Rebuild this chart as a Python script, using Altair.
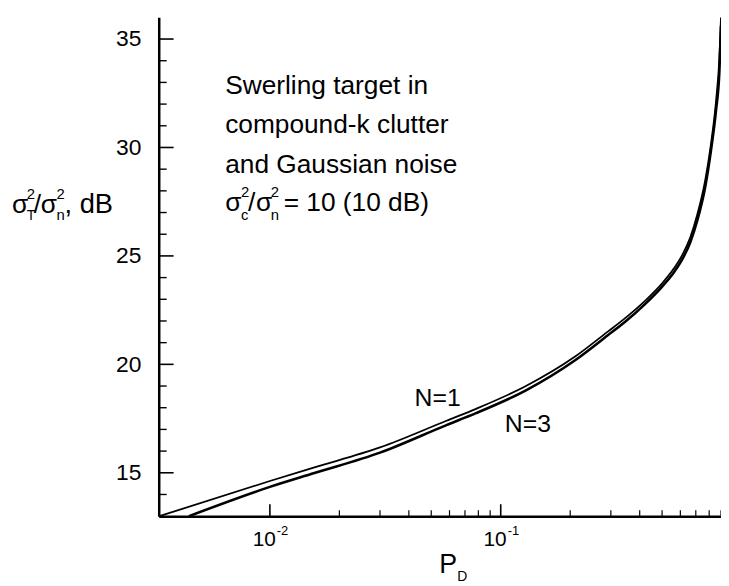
import altair as alt
import pandas as pd

# ---- data ----
pd_n1 = [0.00332, 0.0100, 0.0156, 0.0300, 0.0582, 0.0782, 0.128, 0.210, 0.291, 0.345,
         0.424, 0.497, 0.565, 0.612, 0.662, 0.710, 0.768, 0.815, 0.856, 0.886, 0.900]
snr_n1 = [13.0, 14.62, 15.25, 16.17, 17.40, 17.95, 18.99, 20.36, 21.51, 22.12,
          22.95, 23.70, 24.45, 25.05, 25.85, 26.90, 28.46, 30.19, 32.11, 34.17, 36.0]
pd_n3 = [0.00446, 0.0100, 0.0156, 0.0300, 0.0582, 0.0782, 0.128, 0.210, 0.291, 0.345,
         0.424, 0.497, 0.565, 0.612, 0.662, 0.710, 0.768, 0.815, 0.856, 0.886, 0.900]
snr_n3 = [13.0, 14.35, 14.99, 15.93, 17.20, 17.75, 18.79, 20.19, 21.34, 21.95,
          22.80, 23.55, 24.27, 24.85, 25.62, 26.62, 28.15, 29.89, 31.70, 33.55, 35.6]

y_major = [15, 20, 25, 30, 35]
y_minor = [14, 16, 17, 18, 19, 21, 22, 23, 24, 26, 27, 28, 29, 31, 32, 33, 34]
x_major = [0.01, 0.1]
x_major_exp = ["-2", "-1"]
x_minor = [0.02, 0.03, 0.04, 0.05, 0.06, 0.07, 0.08, 0.09,
           0.2, 0.3, 0.4, 0.5, 0.6, 0.7, 0.8, 0.9]

FONT = "Liberation Sans, Arial, Helvetica, sans-serif"
W, H = 567, 503
XDOM = [0.0033, 0.9]
YDOM = [13, 36]

xs = alt.Scale(type="log", domain=XDOM, nice=False)
ys = alt.Scale(domain=YDOM, nice=False, zero=False)

n1 = pd.DataFrame({"p": pd_n1, "v": snr_n1})
n3 = pd.DataFrame({"p": pd_n3, "v": snr_n3})

line1 = alt.Chart(n1).mark_line(color="black", strokeWidth=1.8, interpolate="monotone", clip=True).encode(
    x=alt.X("p:Q", scale=xs, axis=alt.Axis(labels=False, ticks=False, tickSize=0, grid=False, title=None,
                                           domainColor="black", domainWidth=2.5)),
    y=alt.Y("v:Q", scale=ys, axis=alt.Axis(values=y_major, ticks=False, tickSize=0, grid=False, title=None,
                                           labelPadding=18, labelFontSize=23, labelFont=FONT,
                                           labelColor="black", domainColor="black", domainWidth=2.5)),
)
line3 = alt.Chart(n3).mark_line(color="black", strokeWidth=2.6, interpolate="monotone", clip=True).encode(
    x=alt.X("p:Q", scale=xs), y=alt.Y("v:Q", scale=ys))

ymaj = alt.Chart(pd.DataFrame({"v": y_major})).mark_rule(color="black", strokeWidth=1.6).encode(
    y=alt.Y("v:Q", scale=ys), x=alt.value(0), x2=alt.value(15))
ymin = alt.Chart(pd.DataFrame({"v": y_minor})).mark_rule(color="black", strokeWidth=1.4).encode(
    y=alt.Y("v:Q", scale=ys), x=alt.value(0), x2=alt.value(8))
xmaj = alt.Chart(pd.DataFrame({"p": x_major})).mark_rule(color="black", strokeWidth=1.6).encode(
    x=alt.X("p:Q", scale=xs), y=alt.value(H), y2=alt.value(H - 12))
xmin = alt.Chart(pd.DataFrame({"p": x_minor})).mark_rule(color="black", strokeWidth=1.2).encode(
    x=alt.X("p:Q", scale=xs), y=alt.value(H), y2=alt.value(H - 6))

xlab_df = pd.DataFrame({"p": x_major, "base": ["10", "10"], "exp": x_major_exp})
xlab_base = alt.Chart(xlab_df).mark_text(font=FONT, fontSize=21, align="right", baseline="alphabetic",
                                         dx=6, color="black").encode(
    x=alt.X("p:Q", scale=xs), y=alt.value(533), text="base:N")
xlab_exp = alt.Chart(xlab_df).mark_text(font=FONT, fontSize=13, align="left", baseline="alphabetic",
                                        dx=7, color="black").encode(
    x=alt.X("p:Q", scale=xs), y=alt.value(522), text="exp:N")


def txt(s, x, y, size=26.5):
    return alt.Chart(pd.DataFrame({"t": [s]})).mark_text(
        font=FONT, fontSize=size, align="left", baseline="alphabetic", color="black"
    ).encode(x=alt.value(x), y=alt.value(y), text="t:N")


TX = -148
AX = 67
ann = [
    # y-axis title  sigma_T^2 / sigma_n^2, dB
    txt("σ", TX, 197), txt("2", TX + 15, 183, 15), txt("T", TX + 15, 204, 14),
    txt("/", TX + 22, 197), txt("σ", TX + 29, 197), txt("2", TX + 45, 183, 15), txt("n", TX + 45, 204, 15),
    txt(", dB", TX + 53, 197, 27.5),
    # x-axis title P_D
    txt("P", 283, 560, 27), txt("D", 301, 568, 14),
    # annotation box
    txt("Swerling target in", AX, 77), txt("compound-k clutter", AX, 117),
    txt("and Gaussian noise", AX, 157),
    txt("σ", AX, 195), txt("2", AX + 16, 181, 15), txt("c", AX + 16, 204, 15),
    txt("/", AX + 23, 195), txt("σ", AX + 31, 195), txt("2", AX + 46, 181, 15), txt("n", AX + 46, 204, 15),
    txt("= 10 (10 dB)", AX + 59, 195),
    # curve labels
    txt("N=1", 258, 392, 25), txt("N=3", 349, 418, 25),
]

chart = alt.layer(line1, line3, ymaj, ymin, xmaj, xmin, xlab_base, xlab_exp, *ann).properties(
    width=W, height=H,
    padding={"left": 152, "top": 7, "right": 0, "bottom": 68},
    autosize=alt.AutoSizeParams(type="none"),
    background="white",
).configure_view(strokeWidth=0)

chart.save("out.html", embed_options={"renderer": "svg", "actions": False})
